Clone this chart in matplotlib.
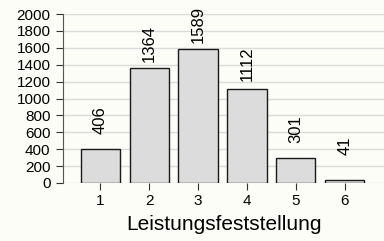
import matplotlib
matplotlib.use("Agg")
import matplotlib.pyplot as plt

categories = [1, 2, 3, 4, 5, 6]
values = [406, 1364, 1589, 1112, 301, 41]
yticks = [0, 200, 400, 600, 800, 1000, 1200, 1400, 1600, 1800, 2000]
xlabel = "Leistungsfeststellung"

plt.rcParams['font.family'] = ['Liberation Sans', 'DejaVu Sans']
bg = '#fdfdf7'
fig = plt.figure(figsize=(3.84, 2.41), dpi=100, facecolor=bg)
ax = fig.add_axes([63/384, 1-183/241, 1-63/384, 169/241])
ax.set_facecolor(bg)
for y in yticks:
    ax.axhline(y, color='#dadada', lw=1, zorder=0)
bars = ax.bar(categories, values, width=0.8, color='#dcdcdc', edgecolor='#1a1a1a', lw=1, zorder=2)
for x, v in zip(categories, values):
    ax.text(x, v + 505, str(v), rotation=90, ha='center', va='top', fontsize=12, color='black', clip_on=False)
ax.set_xlim(0.24, 6.8)
ax.set_ylim(0, 2000)
ax.set_yticks(yticks)
ax.set_xticks(categories)
for s in ['top', 'right', 'bottom']:
    ax.spines[s].set_visible(False)
ax.spines['left'].set_color('#555555')
ax.tick_params(axis='both', labelsize=11, color='#333333', length=5)
ax.tick_params(axis='y', pad=4)
ax.tick_params(axis='x', pad=3)
ax.set_xlabel(xlabel, fontsize=15, labelpad=5)
fig.savefig('out.png', dpi=100, facecolor=bg)
